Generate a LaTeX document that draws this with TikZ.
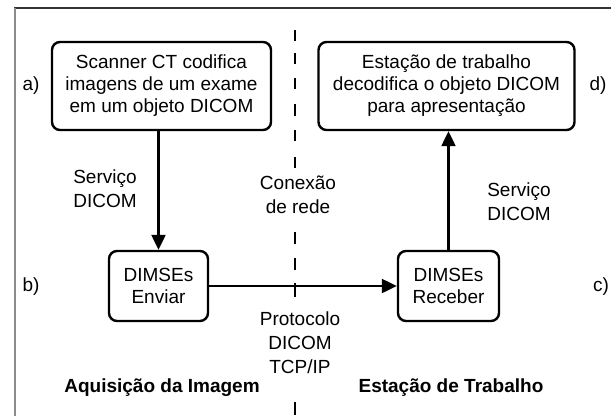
\documentclass[tikz,border=0pt]{standalone}
\usepackage{fontspec}
\setmainfont{Liberation Sans}
\usetikzlibrary{arrows.meta}
\begin{document}
\begin{tikzpicture}[x=1pt,y=-1pt,
  txt/.style={font=\fontsize{19}{22}\selectfont, align=center, inner sep=0pt},
  lbl/.style={font=\fontsize{19}{24}\selectfont, align=center, inner sep=0pt},
  boxnode/.style={draw=black, line width=2.4pt, rounded corners=8pt, txt, fill=white},
  arr/.style={line width=2.3pt, -{Triangle[length=15pt,width=14pt]}},
  netdash/.style={line width=2.8pt, black},
  ttl/.style={font=\bfseries\fontsize{19}{22}\selectfont, inner sep=0pt}
]
\useasboundingbox (0,0) rectangle (611,416);
% frame
\draw[line width=1.5pt, black!80] (14,8) -- (611,8);
\draw[line width=2pt, black!45] (15,8) -- (15,416);
% network line
\foreach \s/\e in {30/41,53/64,78/89,104/116,130/141,157/168,232/244,258/270,283/297,402/415}
  \draw[netdash] (295,\s) -- (295,\e);
% boxes
\node[boxnode, minimum width=219pt, minimum height=88pt] (a) at (161.5,86)
  {Scanner CT codifica\\imagens de um exame\\em um objeto DICOM};
\node[boxnode, minimum width=256pt, minimum height=88pt] (d) at (446.5,86)
  {Estação de trabalho\\decodifica o objeto DICOM\\para apresentação};
\node[boxnode, minimum width=99pt, minimum height=70pt] (b) at (158.5,286)
  {DIMSEs\\Enviar};
\node[boxnode, minimum width=101pt, minimum height=70pt] (c) at (448.5,286)
  {DIMSEs\\Receber};
% connectors
\draw[arr] (b.north |- a.south) -- (b.north);
\draw[arr] (c.north) -- (c.north |- d.south);
\draw[arr] (b.east) -- (c.west);
% side labels
\node[txt] (la) at (31,86) {a)};
\node[txt] (ld) at (598,86) {d)};
\node[txt] (lb) at (31,287) {b)};
\node[txt] (lc) at (601,287) {c)};
% connector labels
\node[lbl] (s1) at (105,189) {Serviço\\DICOM};
\node[lbl] (s2) at (519,202) {Serviço\\DICOM};
\node[lbl] (net) at (298,195) {Conexão\\de rede};
\node[lbl] (prot) at (300,343) {Protocolo\\DICOM\\TCP/IP};
% titles
\node[ttl] (t1) at (162,388) {Aquisição da Imagem};
\node[ttl] (t2) at (451,388) {Estação de Trabalho};
\end{tikzpicture}
\end{document}
